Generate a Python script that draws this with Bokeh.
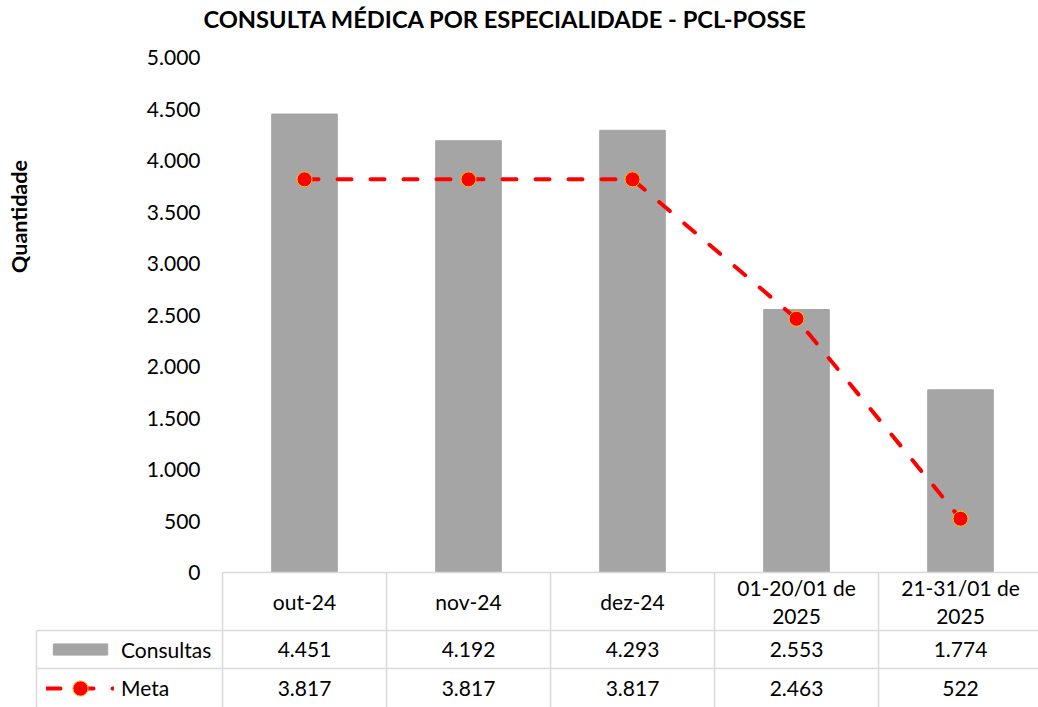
import numpy as np
from bokeh.plotting import figure
from bokeh.models import (Range1d, LinearAxis, FixedTicker, Label, Legend, LegendItem)
from bokeh.core.properties import value
from bokeh.embed import file_html
from bokeh.resources import INLINE

# ---------------- data ----------------
title_text = "CONSULTA MÉDICA POR ESPECIALIDADE - PCL-POSSE"
y_title = "Quantidade"
categories = ["out-24", "nov-24", "dez-24", "01-20/01 de\n2025", "21-31/01 de\n2025"]
consultas = [4451, 4192, 4293, 2553, 1774]
meta = [3817, 3817, 3817, 2463, 522]
y_ticks = [0, 500, 1000, 1500, 2000, 2500, 3000, 3500, 4000, 4500, 5000]
series_names = ["Consultas", "Meta"]

def fmt(v):
    return f"{v:,}".replace(",", ".")

# ---------------- layout (page pixels) ----------------
FIG_W, FIG_H = 1038, 707
TOP_PX = 57                      # y pixel of the top tick value
ZERO_PX = 572                    # y pixel of value 0
CAT0_PX, CAT_STEP = 304, 164     # centre of first category, spacing
ROW_PX = [572, 630, 668, 707]    # table row boundaries
TABLE_L = 36                     # left edge of the table legend column

k = (ZERO_PX - TOP_PX) / y_ticks[-1]
def ypx(py):
    return -(py - ZERO_PX) / k
def xpx(px):
    return (px - CAT0_PX) / CAT_STEP

FONT = "Lato"
FS = "21px"

p = figure(width=FIG_W, height=FIG_H, output_backend="svg", toolbar_location=None,
           x_range=Range1d(xpx(0), xpx(FIG_W)), y_range=Range1d(ypx(FIG_H), ypx(0)),
           x_axis_type=None, y_axis_type=None,
           min_border_left=0, min_border_right=0,
           min_border_top=0, min_border_bottom=0)
p.outline_line_color = None
p.background_fill_color = "white"
p.border_fill_color = "white"

idx = np.arange(len(categories))

# bars and line
bars = p.vbar(x=idx, top=consultas, bottom=0, width=0.4,
              fill_color="#A5A5A5", line_color="#A5A5A5")
ln = p.line(x=idx, y=meta, line_color="#FF0000", line_width=4,
            line_dash="14 19", line_cap="round")
pts = p.scatter(x=idx, y=meta, marker="circle", size=15,
                fill_color="#FF0000", line_color="#FFC000", line_width=1)

# y axis at the left edge of the chart area
yax = LinearAxis(fixed_location=-0.5, ticker=FixedTicker(ticks=y_ticks),
                 major_label_overrides={t: fmt(t) for t in y_ticks},
                 axis_line_color=None, major_tick_line_color=None,
                 minor_tick_line_color=None, major_tick_out=0, major_tick_in=0,
                 minor_tick_out=0, major_label_standoff=22,
                 major_label_text_font=FONT, major_label_text_font_size=FS,
                 major_label_text_color="#000000")
p.add_layout(yax, "left")

# data table grid
y0, y1, y2 = ypx(ROW_PX[0]), ypx(ROW_PX[1]), ypx(ROW_PX[2])
y3 = ypx(ROW_PX[3])
xl = xpx(TABLE_L)
bounds = [i - 0.5 for i in range(len(categories) + 1)]
sx0 = [bounds[0], xl, xl, xl] + bounds
sx1 = [bounds[-1], bounds[-1], bounds[-1], xl] + bounds
sy0 = [y0, y1, y2, y1] + [y0] * len(bounds)
sy1 = [y0, y1, y2, y3] + [y3] * len(bounds)
p.segment(x0=sx0, y0=sy0, x1=sx1, y1=sy1, line_color="#D9D9D9", line_width=1.5)

# table texts
txt_kw = dict(text_align="center", text_baseline="middle", text_font=value(FONT),
              text_font_size=FS, text_color="#000000")
p.text(x=idx, y=[(y0 + y1) / 2] * len(idx), text=categories, text_line_height=1.15, **txt_kw)
p.text(x=idx, y=[(y1 + y2) / 2] * len(idx), text=[fmt(v) for v in consultas], **txt_kw)
p.text(x=idx, y=[(y2 + y3) / 2] * len(idx), text=[fmt(v) for v in meta], **txt_kw)

# legend keys inside the table
leg_common = dict(glyph_width=68, label_standoff=7, padding=0, margin=0, spacing=0,
                  border_line_color=None, background_fill_alpha=0,
                  label_text_font=FONT, label_text_font_size=FS, label_text_color="#000000")
c1 = (ROW_PX[1] + ROW_PX[2]) / 2
c2 = (ROW_PX[2] + ROW_PX[3]) / 2
h1, lh1, h2 = 14, 26, 38
leg1 = Legend(items=[LegendItem(label=series_names[0], renderers=[bars])],
              glyph_height=h1, label_height=lh1,
              location=(46, FIG_H - c1 - lh1 / 2), **leg_common)
leg2 = Legend(items=[LegendItem(label=series_names[1], renderers=[ln, pts])],
              glyph_height=h2, label_height=h2,
              location=(46, FIG_H - c2 - h2 / 2), **leg_common)
p.add_layout(leg1)
p.add_layout(leg2)

# title and axis title
p.add_layout(Label(x=505, y=FIG_H - 18, x_units="screen", y_units="screen",
                   text=title_text, text_align="center", text_baseline="middle",
                   text_font=FONT, text_font_size="23.7px", text_font_style="bold",
                   text_color="#000000"))
p.add_layout(Label(x=18, y=FIG_H - 216, x_units="screen", y_units="screen",
                   text=y_title, angle=np.pi / 2, text_align="center", text_baseline="middle",
                   text_font=FONT, text_font_size="21.5px", text_font_style="bold",
                   text_color="#000000"))

open("out.html", "w").write(file_html(p, INLINE))
